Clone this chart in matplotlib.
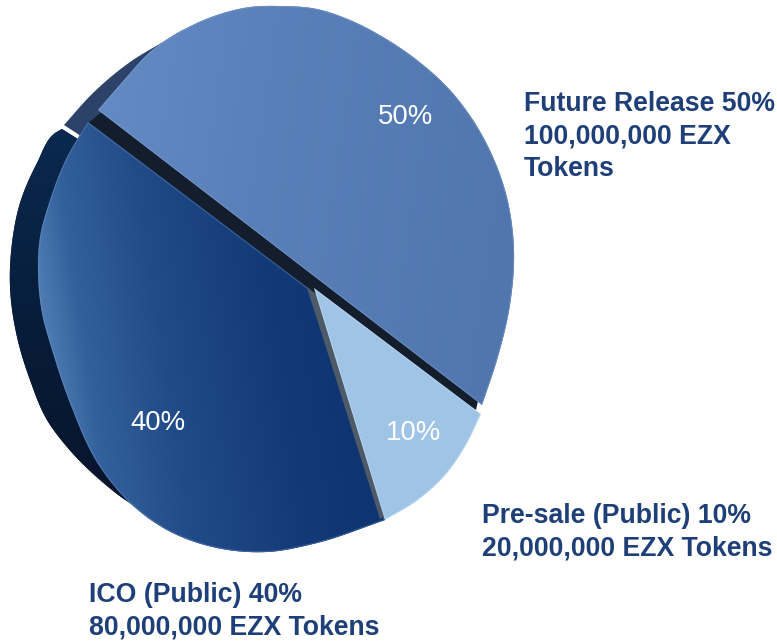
import numpy as np
import matplotlib
matplotlib.use("Agg")
import matplotlib.pyplot as plt
from matplotlib.path import Path
from matplotlib.patches import PathPatch
from matplotlib.transforms import Affine2D
from matplotlib.colors import to_rgb

shares = [50, 10, 40]
pct_labels = ["50%", "10%", "40%"]
callouts = ["Future Release 50%\n100,000,000 EZX\nTokens",
            "Pre-sale (Public) 10%\n20,000,000 EZX Tokens",
            "ICO (Public) 40%\n80,000,000 EZX Tokens"]

W, H = 777, 642
fig = plt.figure(figsize=(W / 100, H / 100), dpi=100)
ax = fig.add_axes([0, 0, 1, 1])
ax.axis("off")


def spline(outline, s):
    """Catmull-Rom curve through the outline guide points, at parameters s in 0..1."""
    p = np.asarray(outline, float)
    seg = np.hypot(*np.diff(p, axis=0).T)
    u = np.concatenate([[0], np.cumsum(seg)]) / seg.sum()
    m = np.gradient(p, u, axis=0)
    i = np.clip(np.searchsorted(u, s, side="right") - 1, 0, len(u) - 2)
    h = u[i + 1] - u[i]
    t = (s - u[i]) / h
    h00 = 2 * t**3 - 3 * t**2 + 1
    h10 = t**3 - 2 * t**2 + t
    h01 = -2 * t**3 + 3 * t**2
    h11 = t**3 - t**2
    return ((h00[:, None] * p[i]) + (h10 * h)[:, None] * m[i]
            + (h01[:, None] * p[i + 1]) + (h11 * h)[:, None] * m[i + 1])


def warp(wedge, apex, outline):
    """Bend a pie wedge onto the perspective outline of the drawing."""
    t0, t1 = wedge.theta1, wedge.theta2
    scaled = Affine2D().scale(1000).transform_path(wedge.get_path())
    poly = scaled.to_polygons(closed_only=True)[0] / 1000
    r = np.hypot(poly[:, 0], poly[:, 1])
    th = np.degrees(np.arctan2(poly[:, 1], poly[:, 0]))
    s = np.clip(((th - t0 + 1) % 360 - 1) / (t1 - t0), 0, 1)
    c = spline(outline, s)
    wedge._path = Path(np.column_stack([apex[0] + r * (c[:, 0] - apex[0]),
                                        apex[1] + r * (c[:, 1] - apex[1])]))
    wedge.set_transform(ax.transData)
    wedge.set_linewidth(0)
    return wedge


def layer(index, colour, apex, outline, z):
    wedges, _ = ax.pie(shares, startangle=-30, colors=[colour] * 3, radius=1)
    for i, w in enumerate(wedges):
        if i != index:
            w.remove()
    w = wedges[index]
    warp(w, apex, outline)
    w.set_zorder(z)
    return w


def shade(wedge, stops, direction, z):
    yy, xx = np.mgrid[0:H, 0:W]
    t = (xx * direction[0] + yy * direction[1] + direction[2])
    pos = [p for p, _ in stops]
    cols = np.array([to_rgb(c) for _, c in stops])
    img = np.stack([np.interp(t, pos, cols[:, k]) for k in range(3)], axis=-1)
    im = ax.imshow(img, extent=(0, W, H, 0), zorder=z, interpolation="bilinear")
    im.set_clip_path(wedge)


def rim(wedge, colour, alpha, lw, z):
    p = PathPatch(wedge.get_path(), fill=False, edgecolor=colour, alpha=alpha,
                  lw=lw, zorder=z, transform=ax.transData)
    ax.add_patch(p)
    p.set_clip_path(wedge)


FUTURE, PRESALE, ICO = 0, 1, 2
out50 = [(482, 405), (497, 360), (510, 305), (514, 250), (505, 190), (493, 157), (473, 120),
         (450, 90), (417, 60), (383, 37), (350, 20), (317, 9), (280, 6), (250, 7), (217, 15),
         (183, 30), (150, 52), (125, 79), (98, 110)]
out40 = [(88, 122), (67, 157), (50, 200), (40, 237), (38, 270), (42, 313), (53, 353), (70, 403),
         (100, 467), (130, 503), (167, 530), (217, 548), (267, 552), (317, 543), (385, 520)]
out10 = [(385, 520), (418, 500), (447, 473), (467, 443), (481, 414)]

# side walls
dark40 = layer(ICO, "#081d3b", (300, 280),
               [(62, 129), (55, 133), (37, 163), (20, 203), (12, 243), (10, 287), (17, 337), (30, 380),
                (47, 420), (67, 447), (100, 480), (130, 503), (200, 527), (385, 515)], 1)
shade(dark40, [(0, "#0a2a50"), (0.5, "#071d3a"), (1, "#07142a")], (0.0, 1 / 400, -0.3), 1.1)
crescent = layer(FUTURE, "#2c4268", (310, 285),
                 [(470, 400), (495, 300), (470, 150), (400, 70), (300, 30), (210, 24), (183, 30),
                  (163, 42), (133, 60), (93, 93), (64, 125)], 1.5)
band = layer(FUTURE, "#131d2c", (298, 300),
             [(476, 410), (504, 278), (466, 125), (362, 27), (218, 25), (88, 123)], 2)

# faces
face40 = layer(ICO, "#123a76", (308, 288), out40, 3)
shade(face40, [(0, "#4f7db3"), (0.12, "#33609b"), (0.35, "#214b89"), (0.7, "#123a76"), (1, "#0d3370")],
      (1 / 330, -0.15 / 330, 0.02), 3.1)
rim(face40, "#7fa3d0", 0.35, 1.6, 3.2)

wall10 = layer(PRESALE, "#4d5a68", (307, 287),
               [(380, 519), (411, 500), (440, 473), (460, 443), (474, 414)], 3.5)
face10 = layer(PRESALE, "#a0c4e6", (314, 288), out10, 4)
rim(face10, "#dcecfa", 0.4, 1.4, 4.1)

face50 = layer(FUTURE, "#567bb3", (310, 273), out50, 5)
shade(face50, [(0, "#6289c1"), (0.35, "#5a80b9"), (1, "#5176ae")], (1 / 420, 0.15 / 420, -0.32), 5.1)
rim(face50, "#a9c2e4", 0.25, 1.4, 5.2)

# percentage labels
for txt, (x, y) in zip(pct_labels, [(405, 117), (414, 433), (158, 423)]):
    ax.text(x, y, txt, color="white", ha="center", va="center", zorder=8,
            family="Liberation Sans", fontsize=19.8)

# callouts
for txt, (x, y) in zip(callouts, [(524, 136.5), (482, 532.5), (89, 611)]):
    ax.text(x, y, txt, color="#1f3f78", ha="left", va="center", zorder=8,
            family="Liberation Sans", fontweight="bold", fontsize=19.15, linespacing=1.31)

ax.set_aspect("auto")
ax.set_xlim(0, W)
ax.set_ylim(H, 0)
fig.savefig("out.png", dpi=100, facecolor="white")
